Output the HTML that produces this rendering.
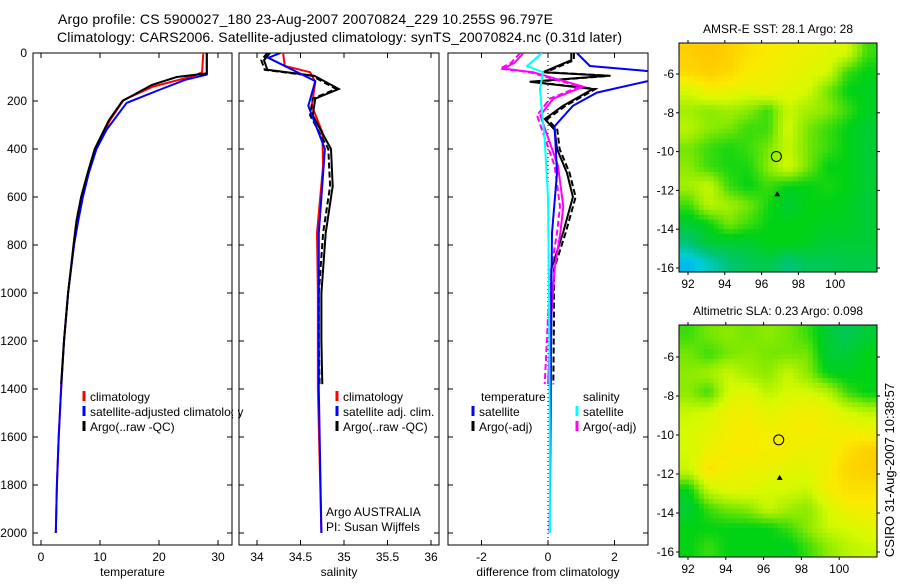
<!DOCTYPE html>
<html><head><meta charset="utf-8"><style>
body{margin:0;background:#fff;width:900px;height:580px;overflow:hidden}
svg{font-family:"Liberation Sans",sans-serif;font-size:12px}
</style></head><body>
<svg id="fig" width="900" height="580" xmlns="http://www.w3.org/2000/svg">
<text x="58" y="24" font-size="14" textLength="495">Argo profile: CS 5900027_180 23-Aug-2007 20070824_229 10.255S 96.797E</text>
<text x="57" y="42" font-size="14" textLength="565">Climatology: CARS2006. Satellite-adjusted climatology: synTS_20070824.nc (0.31d later)</text>
<g id="g"></g>
<text transform="translate(894,470) rotate(-90)" text-anchor="middle" font-size="13">CSIRO 31-Aug-2007 10:38:57</text>
</svg>
<script>
// ---- profile data ----
const tClimDepth=[0,80,95,140,196,280,400,500,600,700,800,1000,1200,1400,1600,1800,2000];
const tClim=[27.5,27.3,26,19,14,11.7,9.2,8,7,6.2,5.6,4.6,3.9,3.4,3,2.7,2.5];
const tSatDepth=[0,90,112,154,208,320,400,500,600,700,800,1000,1200,1400,1600,1800,2000];
const tSat=[28.1,28.1,24.4,20,14.5,11.1,9.4,8.1,7.1,6.3,5.6,4.6,3.9,3.4,3,2.7,2.5];
const aDepth=[0,85,100,133,200,280,400,500,600,700,800,1000,1200,1380];
const tArgo=[28.1,28.1,23,18.8,13.8,11.5,9.1,7.9,6.8,6,5.5,4.6,3.9,3.4];
const sDepth=[0,54,80,120,220,330,470,750,1000,1400,2000];
const sClim=[34.30,34.32,34.61,34.67,34.63,34.75,34.76,34.69,34.70,34.70,34.74];
const sSatDepth=[0,20,117,220,400,750,1000,1400,2000];
const sSat=[34.27,34.13,34.67,34.59,34.78,34.71,34.71,34.71,34.74];
const sArgoDepth=[0,30,70,95,150,190,260,400,555,750,1000,1200,1380];
const sArgo=[34.12,34.05,34.09,34.63,34.91,34.64,34.61,34.82,34.84,34.76,34.71,34.71,34.72];
const dTSatDepth=[0,54,80,117,165,220,305,500,750,1000,1500,2000];
const dTSat=[0.87,1.26,3.4,3.0,1.47,0.75,0.2,0.27,0.12,0.1,0.08,0.05];
const dTArgoDepth=[0,30,80,95,120,150,220,275,320,400,500,600,650,750,900,1100,1380];
const dTArgo=[0.7,0.7,-0.15,1.8,-0.55,1.35,0.45,-0.1,0.2,0.27,0.57,0.75,0.65,0.45,0.1,0.1,0.08];
const dSSatDepth=[0,54,80,150,220,360,600,1000,1500,2000];
const dSSat=[-0.18,-0.63,-0.15,-0.24,-0.2,-0.1,0.0,0.03,0.05,0.06];
const dSArgoDepth=[0,40,65,80,140,190,260,320,470,640,750,900,1100,1380];
const dSArgo=[-0.84,-1.1,-1.44,-0.55,0.96,0.06,-0.33,-0.18,0.2,0.36,0.27,0.1,0.0,-0.1];
// ---- map data (rows top->bottom, cols west->east) ----
const sstGrid=[
[.9,.92,.9,.85,.82,.8,.78,.75,.72,.55],
[.88,.9,.88,.82,.8,.78,.75,.72,.55,.5],
[.72,.8,.78,.75,.78,.75,.72,.6,.5,.48],
[.65,.62,.65,.62,.55,.7,.65,.62,.55,.48],
[.68,.62,.6,.55,.55,.72,.6,.55,.5,.45],
[.6,.55,.52,.55,.6,.7,.6,.55,.5,.45],
[.62,.55,.52,.52,.62,.72,.6,.5,.5,.45],
[.65,.7,.55,.5,.55,.5,.5,.52,.5,.45],
[.55,.68,.65,.6,.52,.45,.5,.5,.48,.45],
[.45,.5,.6,.55,.5,.5,.5,.48,.48,.45],
[.35,.45,.45,.45,.5,.5,.48,.45,.45,.45],
[.15,.25,.35,.4,.42,.35,.4,.4,.42,.42]];
const slaGrid=[
[.55,.6,.62,.6,.62,.6,.55,.45,.4,.45],
[.6,.55,.6,.62,.6,.6,.6,.45,.45,.5],
[.62,.65,.7,.65,.62,.7,.62,.5,.48,.5],
[.62,.55,.72,.75,.68,.72,.72,.68,.55,.5],
[.7,.72,.78,.8,.75,.78,.8,.78,.72,.68],
[.72,.75,.8,.82,.8,.8,.82,.8,.8,.78],
[.72,.78,.82,.82,.8,.8,.78,.78,.85,.9],
[.7,.85,.8,.78,.78,.75,.75,.8,.88,.9],
[.5,.7,.75,.75,.72,.72,.7,.8,.85,.85],
[.45,.55,.6,.62,.7,.65,.62,.72,.8,.8],
[.5,.5,.5,.5,.5,.55,.62,.7,.72,.75],
[.5,.55,.5,.5,.5,.48,.55,.62,.68,.7]];
const depthTicks=[0,200,400,600,800,1000,1200,1400,1600,1800,2000];
const tTicks=[0,10,20,30], sTicks=[34,34.5,35,35.5,36], dTicks=[-2,0,2];
const latTicks=[-6,-8,-10,-12,-14,-16], lonTicks=[92,94,96,98,100];

const NS='http://www.w3.org/2000/svg', G=document.getElementById('g');
function el(t,a,p){const e=document.createElementNS(NS,t);for(const k in a)e.setAttribute(k,a[k]);(p||G).appendChild(e);return e;}
const yD=d=>53+d*0.24;
const yTop=53,bot=545;
function panel(x0,x1,name){
  const r=el('rect',{x:x0,y:yTop,width:x1-x0,height:bot-yTop,fill:'none',stroke:'#000'});
  
  
  depthTicks.forEach(d=>{el('line',{x1:x0,x2:x0+5,y1:yD(d),y2:yD(d),stroke:'#000'});el('line',{x1:x1,x2:x1-5,y1:yD(d),y2:yD(d),stroke:'#000'});});
}
function xticks(x0,x1,ticks,fx,label,name){
  ticks.forEach(v=>{const x=fx(v);el('line',{x1:x,x2:x,y1:bot,y2:bot-5,stroke:'#000'});el('line',{x1:x,x2:x,y1:yTop,y2:yTop+5,stroke:'#000'});
    const t=el('text',{x:x,y:bot+16,'text-anchor':'middle'});t.textContent=v;
    
    });
  const t=el('text',{x:(x0+x1)/2,y:bot+31,'text-anchor':'middle'});t.textContent=label;
  
  
}
function line(fx,depths,vals,color,name,dash,clip){
  const pts=depths.map((d,i)=>fx(vals[i]).toFixed(1)+','+yD(d).toFixed(1)).join(' ');
  const a={points:pts,fill:'none',stroke:color,'stroke-width':2};
  if(dash)a['stroke-dasharray']=dash; if(clip)a['clip-path']='url(#'+clip+')';
  const p=el('polyline',a);
  
  
}
function legend(x,y,color,text,name){
  if(color)el('line',{x1:x,x2:x,y1:y-10,y2:y,stroke:color,'stroke-width':3});
  const t=el('text',{x:x+6,y:y});t.textContent=text;
  
  
}
const defs=el('defs',{});
[['c1',33,232],['c2',239,439],['c3',448,648]].forEach(c=>{const cp=el('clipPath',{id:c[0]},defs);el('rect',{x:c[1],y:yTop,width:c[2]-c[1],height:bot-yTop},cp);});

// panel 1 temperature
const fT=v=>41+v*5.9;
panel(33,232,'temperature-panel');
depthTicks.forEach(d=>{const t=el('text',{x:27,y:yD(d)+4,'text-anchor':'end'});t.textContent=d;
  
  });
xticks(33,232,tTicks,fT,'temperature','temperature');
line(fT,tClimDepth,tClim,'#f00','temp-climatology-line',null,'c1');
line(fT,tSatDepth,tSat,'#00f','temp-satellite-line',null,'c1');
line(fT,aDepth,tArgo,'#000','temp-argo-line',null,'c1');
legend(84,401,'#f00','climatology','temp-legend-climatology');
legend(84,416,'#00f','satellite-adjusted climatology','temp-legend-satellite');
legend(84,431,'#000','Argo(..raw -QC)','temp-legend-argo');
el('rect',{x:233,y:390,width:5,height:50,fill:'#fff'});

// panel 2 salinity
const fS=v=>257+(v-34)*87;
panel(239,439,'salinity-panel');
xticks(239,439,sTicks,fS,'salinity','salinity');
line(fS,sDepth,sClim,'#f00','sal-climatology-line',null,'c2');
line(fS,sArgoDepth,sArgo,'#000','sal-argo-raw-line','6,3','c2');
line(fS,sArgoDepth,sArgo.map(v=>v+0.03),'#000','sal-argo-qc-line',null,'c2');
line(fS,sSatDepth,sSat,'#00f','sal-satellite-line',null,'c2');
legend(337,401,'#f00','climatology','sal-legend-climatology');
legend(337,416,'#00f','satellite adj. clim.','sal-legend-satellite');
legend(337,431,'#000','Argo(..raw -QC)','sal-legend-argo');
legend(320,516,null,'Argo AUSTRALIA','argo-australia-label');
legend(320,531,null,'PI: Susan Wijffels','pi-label');

// panel 3 difference
const fD=v=>548+v*33.25;
panel(448,648,'difference-panel');
xticks(448,648,dTicks,fD,'difference from climatology','difference');
el('line',{x1:fD(0),x2:fD(0),y1:yTop,y2:bot,stroke:'#000','stroke-dasharray':'1,3'});
line(fD,dTArgoDepth,dTArgo,'#000','diff-temp-argo-line',null,'c3');
line(fD,dTArgoDepth,dTArgo.map(v=>v+0.08),'#000','diff-temp-argo-raw-line','6,3','c3');
line(fD,dSArgoDepth,dSArgo,'#f0f','diff-sal-argo-line','6,3','c3');
line(fD,dSArgoDepth,dSArgo.map(v=>v+0.1),'#f0f','diff-sal-argo-qc-line',null,'c3');
line(fD,dTSatDepth,dTSat,'#00f','diff-temp-satellite-line',null,'c3');
line(fD,dSSatDepth,dSSat,'#0ff','diff-sal-satellite-line',null,'c3');
legend(475,401,null,'temperature','diff-legend-temperature');
legend(577,401,null,'salinity','diff-legend-salinity');
legend(473,416,'#00f','satellite','diff-legend-temp-satellite');
legend(473,431,'#000','Argo(-adj)','diff-legend-temp-argo');
legend(577,416,'#0ff','satellite','diff-legend-sal-satellite');
legend(577,431,'#f0f','Argo(-adj)','diff-legend-sal-argo');

// maps
const cm=[[0,[0,120,255]],[0.2,[0,205,225]],[0.35,[0,195,120]],[0.5,[0,210,20]],[0.62,[140,235,0]],[0.72,[215,250,0]],[0.82,[250,235,0]],[0.92,[255,200,0]],[1,[255,160,0]]];
function col(v){for(let i=1;i<cm.length;i++){if(v<=cm[i][0]){const a=cm[i-1],b=cm[i],f=(v-a[0])/(b[0]-a[0]);return 'rgb('+a[1].map((c,j)=>Math.round(c+(b[1][j]-c)*f)).join(',')+')';}}return 'rgb(255,160,0)';}
function sample(grid,r,c){const nr=grid.length,nc=grid[0].length;
  r=Math.max(0,Math.min(nr-1,r));c=Math.max(0,Math.min(nc-1,c));
  const r0=Math.floor(r),c0=Math.floor(c),r1=Math.min(nr-1,r0+1),c1=Math.min(nc-1,c0+1),fr=r-r0,fc=c-c0;
  return grid[r0][c0]*(1-fr)*(1-fc)+grid[r0][c1]*(1-fr)*fc+grid[r1][c0]*fr*(1-fc)+grid[r1][c1]*fr*fc;}
function drawMap(y0,y1,grid,title,name,lat6,lat16,lonPx){
  const x0=679,x1=877,U=4,nr=grid.length*U,nc=grid[0].length*U,cw=(x1-x0)/nc,ch=(y1-y0)/nr;
  const fLon=v=>688+(v-92)*lonPx, fLat=v=>lat6+(-6-v)*(lat16-lat6)/10;
  for(let r=0;r<nr;r++)for(let c=0;c<nc;c++){
    const v=sample(grid,(r+0.5)/U-0.5,(c+0.5)/U-0.5);
    const e=el('rect',{x:(x0+c*cw).toFixed(2),y:(y0+r*ch).toFixed(2),width:(cw+0.4).toFixed(2),height:(ch+0.4).toFixed(2),fill:col(v)});
    
    }
  const f=el('rect',{x:x0,y:y0,width:x1-x0,height:y1-y0,fill:'none',stroke:'#000'});
  
  
  latTicks.forEach(v=>{const y=fLat(v);el('line',{x1:x0-3,x2:x0,y1:y,y2:y,stroke:'#000'});el('line',{x1:x1,x2:x1+3,y1:y,y2:y,stroke:'#000'});
    const t=el('text',{x:x0-5,y:y+4,'text-anchor':'end'});t.textContent=v;
    
    });
  lonTicks.forEach(v=>{const x=fLon(v);el('line',{x1:x,x2:x,y1:y1,y2:y1+3,stroke:'#000'});el('line',{x1:x,x2:x,y1:y0-3,y2:y0,stroke:'#000'});
    const t=el('text',{x:x,y:y1+16,'text-anchor':'middle'});t.textContent=v;
    
    });
  const t=el('text',{x:(x0+x1)/2,y:y0-10,'text-anchor':'middle'});t.textContent=title;
  
  
  const c=el('circle',{cx:fLon(96.8),cy:fLat(-10.25),r:5,fill:'none',stroke:'#000'});
  
  
  const px=fLon(96.85),py=fLat(-12.2);
  el('polygon',{points:(px-3)+','+(py+2)+' '+(px+3)+','+(py+2)+' '+px+','+(py-3),fill:'#000'});
}
drawMap(43,272,sstGrid,'AMSR-E SST: 28.1 Argo: 28','sst-map',74,268,18.4);
drawMap(325,557,slaGrid,'Altimetric SLA: 0.23 Argo: 0.098','sla-map',357,552,18.9);
</script>
</body></html>
